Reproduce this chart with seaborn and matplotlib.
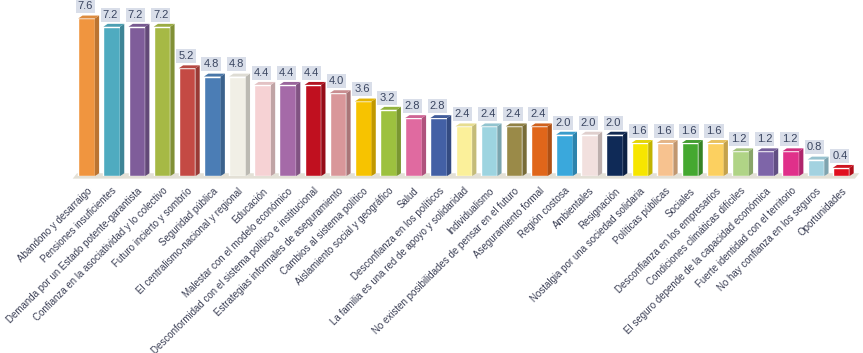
import numpy as np
import pandas as pd
import matplotlib
matplotlib.use("Agg")
import matplotlib.pyplot as plt
import matplotlib.colors as mcolors
from matplotlib.patches import Polygon
import seaborn as sns

categorias = [
    "Abandono y desarraigo",
    "Pensiones insuficientes",
    "Demanda por un Estado potente-garantista",
    "Confianza en la asociatividad y lo colectivo",
    "Futuro incierto y sombrío",
    "Seguridad pública",
    "El centralismo-nacional y regional",
    "Educación",
    "Malestar con el modelo económico",
    "Desconformidad con el sistema político e institucional",
    "Estrategias informales de aseguramiento",
    "Cambios al sistema político",
    "Aislamiento social y geográfico",
    "Salud",
    "Desconfianza en los políticos",
    "La familia es una red de apoyo y solidaridad",
    "Individualismo",
    "No existen posibilidades de pensar en el futuro",
    "Aseguramiento formal",
    "Región costosa",
    "Ambientales",
    "Resignación",
    "Nostalgia por una sociedad solidaria",
    "Políticas públicas",
    "Sociales",
    "Desconfianza en los empresarios",
    "Condiciones climáticas difíciles",
    "El seguro depende de la capacidad económica",
    "Fuerte identidad con el territorio",
    "No hay confianza en los seguros",
    "Oportunidades",
]
valores = [7.6, 7.2, 7.2, 7.2, 5.2, 4.8, 4.8, 4.4, 4.4, 4.4, 4.0, 3.6, 3.2, 2.8, 2.8,
           2.4, 2.4, 2.4, 2.4, 2.0, 2.0, 2.0, 1.6, 1.6, 1.6, 1.6, 1.2, 1.2, 1.2, 0.8, 0.4]
colores = [
    "#f0953f", "#4fabc0", "#7f5d9a", "#a6b945", "#c44a44", "#4b7db5", "#f1efe6",
    "#f6d2d4", "#a56aa8", "#c0101f", "#d9979a", "#f7c300", "#9dc13f", "#e06aa0",
    "#4360a5", "#fbf09a", "#9dd4e0", "#9a8a48", "#e0661a", "#3aa8dc", "#f2e0de",
    "#0f2a57", "#f7e600", "#f7c28f", "#45a830", "#fcd060", "#b0d486", "#7e65a8",
    "#e0308a", "#a3d2e0", "#e0101f",
]

df = pd.DataFrame({"categoria": categorias, "valor": valores})

sns.set_style("white")
plt.rcParams["font.family"] = ["Liberation Sans", "DejaVu Sans"]

fig = plt.figure(figsize=(8.63, 3.53), dpi=100)
ax = fig.add_axes([0.0857, 0.501, 0.9035, 0.482])

sns.barplot(data=df, x="categoria", y="valor", hue="categoria", palette=colores,
            legend=False, width=0.66, saturation=1, ax=ax)

n = len(categorias)
dx, dy = 0.17, 0.14

# piso gris bajo las barras
ax.add_patch(Polygon([(-0.55, -0.12), (n - 0.45, -0.12), (n - 0.45 + dx, dy), (-0.55 + dx, dy)],
                     closed=True, fc="#e3e0d6", ec="none", zorder=0, clip_on=False))

# caras laterales y superiores para el efecto 3D
for p, c, v in zip(ax.patches, colores, valores):
    x0, w, h = p.get_x(), p.get_width(), p.get_height()
    rgb = np.array(mcolors.to_rgb(c))
    side = rgb * 0.78
    top = np.clip(rgb * 0.9 + 0.02, 0, 1)
    ax.add_patch(Polygon([(x0 + w, 0), (x0 + w + dx, dy), (x0 + w + dx, h + dy), (x0 + w, h)],
                         closed=True, fc=side, ec="none", zorder=3))
    ax.add_patch(Polygon([(x0, h), (x0 + dx, h + dy), (x0 + w + dx, h + dy), (x0 + w, h)],
                         closed=True, fc=top, ec="none", zorder=3))
    ax.text(x0 + w / 2 - 0.05, h + dy + 0.2, f"{v:.1f}", ha="center", va="bottom",
            fontsize=8, color="#3a4560", zorder=4,
            bbox=dict(boxstyle="square,pad=0.18", fc="#d9dee9", ec="none"))

ax.set_xlim(-0.5, n - 0.5)
ax.set_ylim(0, 8.2)
ax.set_xlabel("")
ax.set_ylabel("")
ax.set_yticks([])
for s in ax.spines.values():
    s.set_visible(False)
ax.tick_params(axis="x", length=0, pad=7)
plt.setp(ax.get_xticklabels(), rotation=45, ha="right", rotation_mode="anchor",
         fontsize=7, color="#3b3f55")

fig.savefig("out.png", dpi=100)
plt.close(fig)
